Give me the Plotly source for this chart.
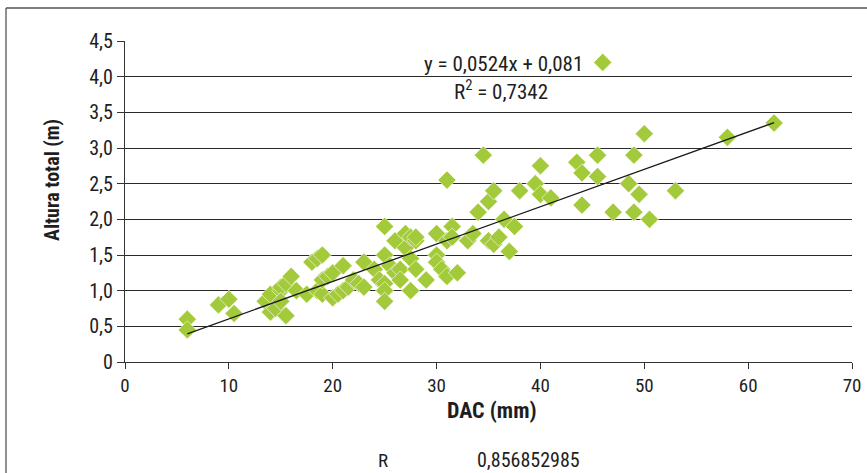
import plotly.graph_objects as go

# DAC (mm) and total height (m)
dac_mm = [6, 6, 9, 10, 10.5,
          13.5, 14, 14, 14.5, 15, 15, 15.5, 15.5, 16, 16.5, 15,
          17.5, 18, 18.5, 19, 18.5, 19, 19, 19.5, 20, 20, 20.5, 21, 21, 21.5,
          22, 22.5, 23, 23, 24, 24.5,
          25, 25, 25, 25, 25, 25.5, 26, 26, 26.5, 26.5, 27, 27, 27.5, 27.5, 28, 28, 27.5, 28,
          29, 30, 30, 30, 30.5, 31, 31, 31, 31.5, 31.5, 32, 33, 33.5, 34, 34.5, 35, 35.5,
          35, 35.5, 36, 36.5, 37, 37.5, 38, 39.5, 40, 40, 41, 43.5, 44, 44, 45.5, 45.5,
          47, 48.5, 49, 49, 49.5, 50, 50.5, 53, 58, 62.5, 46]
altura_m = [0.6, 0.45, 0.8, 0.88, 0.68,
            0.85, 0.7, 0.95, 0.75, 1.0, 1.05, 0.65, 1.1, 1.2, 1.0, 0.85,
            0.95, 1.4, 1.45, 1.5, 1.0, 0.95, 1.15, 1.2, 1.25, 0.9, 0.95, 1.0, 1.35, 1.05,
            1.15, 1.1, 1.4, 1.05, 1.3, 1.15,
            1.9, 1.5, 1.1, 1.0, 0.85, 1.35, 1.7, 1.25, 1.3, 1.15, 1.8, 1.6, 1.75, 1.45, 1.7, 1.3, 1.0, 1.75,
            1.15, 1.8, 1.5, 1.4, 1.3, 1.2, 2.55, 1.7, 1.9, 1.75, 1.25, 1.7, 1.8, 2.1, 2.9, 2.25, 2.4,
            1.7, 1.65, 1.75, 2.0, 1.55, 1.9, 2.4, 2.5, 2.75, 2.35, 2.3, 2.8, 2.65, 2.2, 2.9, 2.6,
            2.1, 2.5, 2.9, 2.1, 2.35, 3.2, 2.0, 2.4, 3.15, 3.35, 4.2]

slope = 0.0524
intercept = 0.081
equation_text = "y = 0,0524x + 0,081"
r2_text = "R<sup>2</sup> = 0,7342"
r_label = "R"
r_value = "0,856852985"

y_tick_vals = [0, 0.5, 1.0, 1.5, 2.0, 2.5, 3.0, 3.5, 4.0, 4.5]
y_tick_text = ["0", "0,5", "1,0", "1,5", "2,0", "2,5", "3,0", "3,5", "4,0", "4,5"]
x_tick_vals = [0, 10, 20, 30, 40, 50, 60, 70]

FONT = "Roboto Condensed, Open Sans Condensed, sans-serif"
GREEN = "#a3ca3a"
TXT = "#1e1e1e"

x_min, x_max = min(dac_mm), max(dac_mm)
trend_x = [x_min, x_max]
trend_y = [slope * v + intercept for v in trend_x]

fig = go.Figure()
fig.add_trace(go.Scatter(
    x=dac_mm, y=altura_m, mode="markers",
    marker=dict(symbol="diamond", size=14, color=GREEN,
                line=dict(color="white", width=0.6)),
    showlegend=False, hoverinfo="skip"))
fig.add_trace(go.Scatter(
    x=trend_x, y=trend_y, mode="lines",
    line=dict(color="#1a1a1a", width=1.3),
    showlegend=False, hoverinfo="skip"))

W, H = 867, 473
L, R, T, B = 125, 15, 41, 111
pw, ph = W - L - R, H - T - B

def px_to_paper_x(px):
    return (px - L) / pw

def py_to_paper_y(py):
    return (H - B - py) / ph

def label(text, px, py, size, angle=0):
    return dict(text=text, xref="paper", yref="paper",
                x=px_to_paper_x(px), y=py_to_paper_y(py),
                xanchor="center", yanchor="middle", textangle=angle,
                showarrow=False, font=dict(size=size, family=FONT, color=TXT))

fig.update_layout(
    width=W, height=H,
    margin=dict(l=L, r=R, t=T, b=B, pad=0, autoexpand=False),
    paper_bgcolor="white", plot_bgcolor="white",
    font=dict(family=FONT, size=19, color=TXT),
    xaxis=dict(range=[0, 70], tickvals=x_tick_vals, showgrid=False, automargin=False,
               showline=True, linecolor="#333333", linewidth=1.3,
               ticks="outside", ticklen=6, tickcolor="#333333", tickwidth=1.2,
               zeroline=False, tickfont=dict(size=19, family=FONT, color=TXT)),
    yaxis=dict(range=[0, 4.5], tickvals=y_tick_vals, ticktext=y_tick_text, automargin=False,
               showgrid=True, gridcolor="#2a2a2a", gridwidth=1.2,
               showline=True, linecolor="#333333", linewidth=1.3,
               ticks="outside", ticklen=7, tickcolor="#333333", tickwidth=1.2,
               zeroline=False, tickfont=dict(size=20, family=FONT, color=TXT)),
    shapes=[
        dict(type="line", xref="paper", yref="paper",
             x0=px_to_paper_x(6), x1=px_to_paper_x(880),
             y0=py_to_paper_y(8), y1=py_to_paper_y(8),
             line=dict(color="#555555", width=1.3)),
        dict(type="line", xref="paper", yref="paper",
             x0=px_to_paper_x(6), x1=px_to_paper_x(6),
             y0=py_to_paper_y(8), y1=py_to_paper_y(480),
             line=dict(color="#555555", width=1.3)),
    ],
    annotations=[
        label("<b>DAC (mm)</b>", 492, 411, 22),
        label("<b>Altura total (m)</b>", 52, 180, 20, angle=-90),
        label(equation_text, 503, 64, 21),
        label(r2_text, 501, 90, 21),
        label(r_label, 383, 460, 19),
        label(r_value, 528, 460, 20),
    ],
)

fig.write_html("out.html", config={"displayModeBar": False},
               post_script="document.body.style.margin='0';")
